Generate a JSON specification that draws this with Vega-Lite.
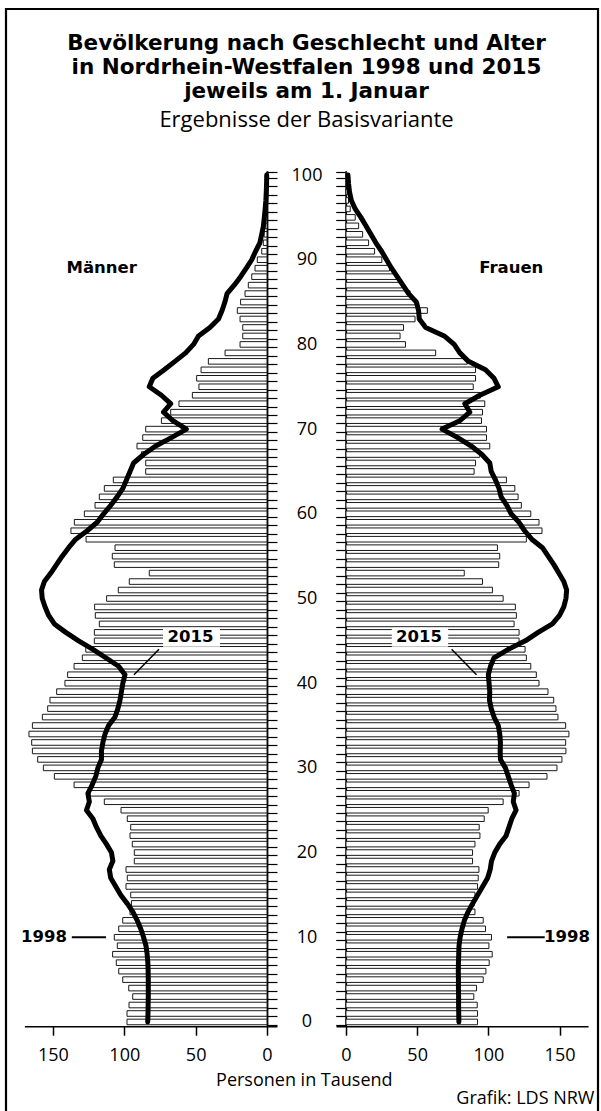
{
  "$schema": "https://vega.github.io/schema/vega-lite/v6.json",
  "width": 592,
  "height": 1112,
  "autosize": {"type": "none"},
  "padding": {"left": 6, "top": 9, "right": 3, "bottom": -10},
  "background": "white",
  "config": {
    "view": {"stroke": "black", "strokeWidth": 2.2, "fill": "white"},
    "axis": {"grid": false, "labelFont": "Open Sans", "labelFontSize": 18, "labelColor": "black", "titleFont": "Open Sans", "titleFontSize": 18, "titleFontWeight": "normal", "titleColor": "black", "domainColor": "black", "tickColor": "black", "labelFlush": false, "labelOverlap": false}
  },
  "title": {
    "text": ["Bevölkerung nach Geschlecht und Alter", "in Nordrhein-Westfalen 1998 und 2015", "jeweils am 1. Januar"],
    "subtitle": "Ergebnisse der Basisvariante",
    "anchor": "middle", "frame": "group", "offset": -131, "dx": 4.5,
    "font": "DejaVu Sans", "fontSize": 21.5, "fontWeight": "bold", "lineHeight": 24.3, "color": "black",
    "subtitleFont": "Open Sans", "subtitleFontSize": 22, "subtitleFontWeight": "normal", "subtitleColor": "black", "subtitlePadding": 7
  },
  "datasets": {
    "pop": [
      {"age": 0, "m98": 98.1, "w98": 92.4, "m15": 83.6, "w15": 79.3},
      {"age": 1, "m98": 98.1, "w98": 92.4, "m15": 83.4, "w15": 79.2},
      {"age": 2, "m98": 96.7, "w98": 92.2, "m15": 83.3, "w15": 79.1},
      {"age": 3, "m98": 94.1, "w98": 89.8, "m15": 83.2, "w15": 79.1},
      {"age": 4, "m98": 96.9, "w98": 91.7, "m15": 83.2, "w15": 79},
      {"age": 5, "m98": 101.1, "w98": 96.4, "m15": 83.2, "w15": 79},
      {"age": 6, "m98": 103.9, "w98": 98.3, "m15": 83.3, "w15": 78.9},
      {"age": 7, "m98": 105.6, "w98": 100.6, "m15": 83.5, "w15": 79},
      {"age": 8, "m98": 108.2, "w98": 102.7, "m15": 84, "w15": 79.2},
      {"age": 9, "m98": 104.9, "w98": 100.4, "m15": 84.8, "w15": 79.4},
      {"age": 10, "m98": 107, "w98": 102.2, "m15": 86.5, "w15": 80.2},
      {"age": 11, "m98": 103.9, "w98": 98, "m15": 88.5, "w15": 81.5},
      {"age": 12, "m98": 101.1, "w98": 96.4, "m15": 91, "w15": 83.2},
      {"age": 13, "m98": 96, "w98": 90.6, "m15": 94, "w15": 85.8},
      {"age": 14, "m98": 95, "w98": 90, "m15": 98, "w15": 89},
      {"age": 15, "m98": 95.5, "w98": 90.6, "m15": 102.5, "w15": 92.5},
      {"age": 16, "m98": 98.8, "w98": 92.4, "m15": 106, "w15": 96},
      {"age": 17, "m98": 97.9, "w98": 92.9, "m15": 109.5, "w15": 99.5},
      {"age": 18, "m98": 98.8, "w98": 93.4, "m15": 110.5, "w15": 101.3},
      {"age": 19, "m98": 93, "w98": 88.9, "m15": 108, "w15": 102.2},
      {"age": 20, "m98": 93, "w98": 88.9, "m15": 109, "w15": 104.5},
      {"age": 21, "m98": 94.4, "w98": 90.6, "m15": 112.5, "w15": 108},
      {"age": 22, "m98": 96, "w98": 94.1, "m15": 116.5, "w15": 112.5},
      {"age": 23, "m98": 95.5, "w98": 93.6, "m15": 119.5, "w15": 114.5},
      {"age": 24, "m98": 97.9, "w98": 97.1, "m15": 122, "w15": 116.5},
      {"age": 25, "m98": 102.3, "w98": 99.9, "m15": 126.5, "w15": 119.5},
      {"age": 26, "m98": 114, "w98": 110.4, "m15": 124.5, "w15": 117.5},
      {"age": 27, "m98": 124, "w98": 121.6, "m15": 125.5, "w15": 118.3},
      {"age": 28, "m98": 135.2, "w98": 128.6, "m15": 122.5, "w15": 116},
      {"age": 29, "m98": 149, "w98": 141.2, "m15": 120, "w15": 114},
      {"age": 30, "m98": 156.7, "w98": 148.2, "m15": 118.5, "w15": 112},
      {"age": 31, "m98": 160.7, "w98": 151.7, "m15": 116, "w15": 108.5},
      {"age": 32, "m98": 164.4, "w98": 154.5, "m15": 116, "w15": 108.3},
      {"age": 33, "m98": 164.9, "w98": 154.3, "m15": 115, "w15": 108.5},
      {"age": 34, "m98": 166.8, "w98": 156.6, "m15": 113.5, "w15": 108},
      {"age": 35, "m98": 164.4, "w98": 154.3, "m15": 111, "w15": 107},
      {"age": 36, "m98": 157.4, "w98": 148.9, "m15": 106.5, "w15": 104},
      {"age": 37, "m98": 153.7, "w98": 147.5, "m15": 104.5, "w15": 102},
      {"age": 38, "m98": 152.1, "w98": 145.9, "m15": 103, "w15": 100.8},
      {"age": 39, "m98": 147.4, "w98": 141.9, "m15": 102, "w15": 101},
      {"age": 40, "m98": 141.6, "w98": 135.6, "m15": 101, "w15": 100.5},
      {"age": 41, "m98": 139.7, "w98": 133.7, "m15": 99.5, "w15": 100},
      {"age": 42, "m98": 135.2, "w98": 129.8, "m15": 104, "w15": 101.5},
      {"age": 43, "m98": 129.4, "w98": 126.7, "m15": 113, "w15": 104},
      {"age": 44, "m98": 127, "w98": 125.8, "m15": 122, "w15": 114},
      {"age": 45, "m98": 121, "w98": 121.6, "m15": 132, "w15": 126},
      {"age": 46, "m98": 121, "w98": 121.6, "m15": 141, "w15": 135},
      {"age": 47, "m98": 117.5, "w98": 118.1, "m15": 149, "w15": 145},
      {"age": 48, "m98": 120.3, "w98": 119.7, "m15": 153, "w15": 150},
      {"age": 49, "m98": 120.8, "w98": 119, "m15": 155.5, "w15": 153},
      {"age": 50, "m98": 112.4, "w98": 110.4, "m15": 157.5, "w15": 154.5},
      {"age": 51, "m98": 104.2, "w98": 102.9, "m15": 158, "w15": 155},
      {"age": 52, "m98": 96.5, "w98": 95.9, "m15": 156, "w15": 153},
      {"age": 53, "m98": 82.5, "w98": 83.1, "m15": 151.5, "w15": 149.5},
      {"age": 54, "m98": 107, "w98": 107.3, "m15": 147.5, "w15": 146},
      {"age": 55, "m98": 108.4, "w98": 108, "m15": 143.5, "w15": 142},
      {"age": 56, "m98": 106.5, "w98": 106.4, "m15": 139, "w15": 138},
      {"age": 57, "m98": 126.8, "w98": 126.7, "m15": 134, "w15": 130.5},
      {"age": 58, "m98": 137.4, "w98": 137.7, "m15": 126, "w15": 125.5},
      {"age": 59, "m98": 135, "w98": 135.6, "m15": 119, "w15": 121.5},
      {"age": 60, "m98": 128, "w98": 129.8, "m15": 114.5, "w15": 116},
      {"age": 61, "m98": 120.5, "w98": 123.2, "m15": 109.5, "w15": 113},
      {"age": 62, "m98": 117.5, "w98": 120.9, "m15": 105, "w15": 109},
      {"age": 63, "m98": 114, "w98": 118.6, "m15": 101, "w15": 107.5},
      {"age": 64, "m98": 107.7, "w98": 112.7, "m15": 98.5, "w15": 105},
      {"age": 65, "m98": 85, "w98": 90, "m15": 96, "w15": 102},
      {"age": 66, "m98": 85, "w98": 91, "m15": 93.5, "w15": 101},
      {"age": 67, "m98": 88, "w98": 94, "m15": 86.5, "w15": 95.5},
      {"age": 68, "m98": 91.1, "w98": 101, "m15": 78, "w15": 88},
      {"age": 69, "m98": 87.1, "w98": 98.7, "m15": 67, "w15": 78.5},
      {"age": 70, "m98": 85, "w98": 98.7, "m15": 56.5, "w15": 67.5},
      {"age": 71, "m98": 74, "w98": 95.2, "m15": 66, "w15": 80},
      {"age": 72, "m98": 67.5, "w98": 95.9, "m15": 72.5, "w15": 87},
      {"age": 73, "m98": 61.7, "w98": 97.5, "m15": 67.5, "w15": 83.5},
      {"age": 74, "m98": 52.3, "w98": 94.5, "m15": 74, "w15": 94},
      {"age": 75, "m98": 47.7, "w98": 89.4, "m15": 82.5, "w15": 107},
      {"age": 76, "m98": 49.3, "w98": 91, "m15": 80, "w15": 104},
      {"age": 77, "m98": 46.2, "w98": 91, "m15": 72, "w15": 98},
      {"age": 78, "m98": 41.1, "w98": 85.2, "m15": 64.5, "w15": 86},
      {"age": 79, "m98": 29.4, "w98": 63, "m15": 57, "w15": 80},
      {"age": 80, "m98": 18.9, "w98": 41.8, "m15": 51.5, "w15": 76},
      {"age": 81, "m98": 17, "w98": 38, "m15": 48, "w15": 69},
      {"age": 82, "m98": 17, "w98": 40.4, "m15": 40, "w15": 56},
      {"age": 83, "m98": 18.9, "w98": 48.5, "m15": 34, "w15": 51.5},
      {"age": 84, "m98": 20.8, "w98": 57.2, "m15": 31.5, "w15": 51},
      {"age": 85, "m98": 18.5, "w98": 49.7, "m15": 29.5, "w15": 49.5},
      {"age": 86, "m98": 15.4, "w98": 45, "m15": 28, "w15": 44},
      {"age": 87, "m98": 13.1, "w98": 39.2, "m15": 23, "w15": 40},
      {"age": 88, "m98": 10.7, "w98": 35.7, "m15": 18.5, "w15": 36},
      {"age": 89, "m98": 8.4, "w98": 30.6, "m15": 14.5, "w15": 32},
      {"age": 90, "m98": 6.8, "w98": 25.2, "m15": 10.7, "w15": 28.5},
      {"age": 91, "m98": 3.7, "w98": 20.1, "m15": 8, "w15": 25},
      {"age": 92, "m98": 2.6, "w98": 15.9, "m15": 5, "w15": 21},
      {"age": 93, "m98": 2.0, "w98": 11.7, "m15": 3.7, "w15": 17.5},
      {"age": 94, "m98": 1.5, "w98": 8.9, "m15": 2.5, "w15": 14},
      {"age": 95, "m98": 1.0, "w98": 6.5, "m15": 1.9, "w15": 10.5},
      {"age": 96, "m98": 0.7, "w98": 3.0, "m15": 1.3, "w15": 6.5},
      {"age": 97, "m98": 0.5, "w98": 1.8, "m15": 0.8, "w15": 3.8},
      {"age": 98, "m98": 0.3, "w98": 1.0, "m15": 0.5, "w15": 2.5},
      {"age": 99, "m98": 0.2, "w98": 0.6, "m15": 0.3, "w15": 1.8},
      {"age": 100, "m98": 0.3, "w98": 0.5, "m15": 0.2, "w15": 1.4}
    ],
    "menText": [
      {"label": "Männer", "v": 115.8, "age": 89},
      {"label": "1998", "v": 156.3, "age": 10}
    ],
    "menYear": [{"label": "2015", "v": 53.6, "age": 45}],
    "menBox": [{"v": 32.9, "v2": 72.9, "age": 45}],
    "menLeader": [{"v": 75.7, "v2": 93.2, "age": 44, "age2": 41}],
    "menDash": [{"v": 136.8, "v2": 112.8, "age": 10, "age2": 10}],
    "womenText": [
      {"label": "Frauen", "v": 116.1, "age": 89},
      {"label": "1998", "v": 155.3, "age": 10}
    ],
    "womenYear": [{"label": "2015", "v": 51.3, "age": 45}],
    "womenBox": [{"v": 32.2, "v2": 71.8, "age": 45}],
    "womenLeader": [{"v": 74.2, "v2": 91.7, "age": 44, "age2": 41}],
    "womenDash": [{"v": 113.2, "v2": 139.6, "age": 10, "age2": 10}]
  },
  "resolve": {"scale": {"x": "independent"}, "axis": {"x": "independent", "y": "independent"}},
  "layer": [
    {
      "layer": [
        {
          "data": {"name": "pop"},
          "mark": {"type": "bar", "fill": "white", "stroke": "#1a1a1a", "strokeWidth": 1},
          "encoding": {
            "x": {"field": "m98", "type": "quantitative",
              "scale": {"domain": [-7, 170], "range": [271, 18.4], "nice": false, "zero": false},
              "axis": {"orient": "bottom", "offset": -94.8, "values": [0, 50, 100, 150], "title": "Personen in Tausend", "titleX": 297.8, "titleY": 58.8, "titleAlign": "center", "titleBaseline": "alphabetic", "tickSize": 9, "tickWidth": 1.5, "domainWidth": 1.5, "labelPadding": 11.5}},
            "y": {"field": "age", "type": "ordinal",
              "scale": {"domain": [100,99,98,97,96,95,94,93,92,91,90,89,88,87,86,85,84,83,82,81,80,79,78,77,76,75,74,73,72,71,70,69,68,67,66,65,64,63,62,61,60,59,58,57,56,55,54,53,52,51,50,49,48,47,46,45,44,43,42,41,40,39,38,37,36,35,34,33,32,31,30,29,28,27,26,25,24,23,22,21,20,19,18,17,16,15,14,13,12,11,10,9,8,7,6,5,4,3,2,1,0], "range": [161.8, 1017.2], "paddingInner": 0.34, "paddingOuter": 0.17},
              "axis": {"orient": "right", "offset": -331, "title": null, "tickBand": "extent", "tickSize": 10, "tickWidth": 1.2, "domainWidth": 1.8, "labelAlign": "center", "labelBaseline": "middle", "labelPadding": 29.5, "labelExpr": "datum.value % 10 === 0 ? datum.label : ''"}}
          }
        },
        {
          "data": {"name": "menBox"},
          "mark": {"type": "bar", "fill": "white", "stroke": null, "height": 19, "yOffset": -3.5},
          "encoding": {
            "x": {"field": "v", "type": "quantitative"},
            "x2": {"field": "v2"},
            "y": {"field": "age", "type": "ordinal"}
          }
        },
        {
          "data": {"name": "pop"},
          "mark": {"type": "line", "stroke": "black", "strokeWidth": 5, "strokeCap": "round", "strokeJoin": "round"},
          "encoding": {
            "x": {"field": "m15", "type": "quantitative"},
            "y": {"field": "age", "type": "ordinal"},
            "order": {"field": "age", "type": "quantitative"}
          }
        },
        {
          "data": {"name": "menLeader"},
          "mark": {"type": "rule", "stroke": "black", "strokeWidth": 1.5},
          "encoding": {
            "x": {"field": "v", "type": "quantitative"},
            "x2": {"field": "v2"},
            "y": {"field": "age", "type": "ordinal"},
            "y2": {"field": "age2"}
          }
        },
        {
          "data": {"name": "menDash"},
          "mark": {"type": "rule", "stroke": "black", "strokeWidth": 2},
          "encoding": {
            "x": {"field": "v", "type": "quantitative"},
            "x2": {"field": "v2"},
            "y": {"field": "age", "type": "ordinal"},
            "y2": {"field": "age2"}
          }
        },
        {
          "data": {"name": "menText"},
          "mark": {"type": "text", "font": "DejaVu Sans", "fontWeight": "bold", "fontSize": 16.5, "align": "center", "baseline": "middle", "color": "black"},
          "encoding": {
            "x": {"field": "v", "type": "quantitative"},
            "y": {"field": "age", "type": "ordinal"},
            "text": {"field": "label"}
          }
        },
        {
          "data": {"name": "menYear"},
          "mark": {"type": "text", "font": "DejaVu Sans", "fontWeight": "bold", "fontSize": 16.5, "align": "center", "baseline": "middle", "color": "black", "dy": -3.5},
          "encoding": {
            "x": {"field": "v", "type": "quantitative"},
            "y": {"field": "age", "type": "ordinal"},
            "text": {"field": "label"}
          }
        }
      ]
    },
    {
      "layer": [
        {
          "data": {"name": "pop"},
          "mark": {"type": "bar", "fill": "white", "stroke": "#1a1a1a", "strokeWidth": 1},
          "encoding": {
            "x": {"field": "w98", "type": "quantitative",
              "scale": {"domain": [-7, 170], "range": [330, 582], "nice": false, "zero": false},
              "axis": {"orient": "bottom", "offset": -94.8, "values": [0, 50, 100, 150], "title": "Grafik: LDS NRW", "titleX": 588, "titleY": 77.5, "titleAlign": "right", "titleBaseline": "alphabetic", "tickSize": 9, "tickWidth": 1.5, "domainWidth": 1.5, "labelPadding": 11.5}},
            "y": {"field": "age", "type": "ordinal",
              "scale": {"domain": [100,99,98,97,96,95,94,93,92,91,90,89,88,87,86,85,84,83,82,81,80,79,78,77,76,75,74,73,72,71,70,69,68,67,66,65,64,63,62,61,60,59,58,57,56,55,54,53,52,51,50,49,48,47,46,45,44,43,42,41,40,39,38,37,36,35,34,33,32,31,30,29,28,27,26,25,24,23,22,21,20,19,18,17,16,15,14,13,12,11,10,9,8,7,6,5,4,3,2,1,0], "range": [161.8, 1017.2], "paddingInner": 0.34, "paddingOuter": 0.17},
              "axis": {"orient": "left", "offset": -339.7, "title": null, "labels": false, "tickBand": "extent", "tickSize": 10, "tickWidth": 1.2, "domainWidth": 1.8}}
          }
        },
        {
          "data": {"name": "womenBox"},
          "mark": {"type": "bar", "fill": "white", "stroke": null, "height": 19, "yOffset": -3.5},
          "encoding": {
            "x": {"field": "v", "type": "quantitative"},
            "x2": {"field": "v2"},
            "y": {"field": "age", "type": "ordinal"}
          }
        },
        {
          "data": {"name": "pop"},
          "mark": {"type": "line", "stroke": "black", "strokeWidth": 5, "strokeCap": "round", "strokeJoin": "round"},
          "encoding": {
            "x": {"field": "w15", "type": "quantitative"},
            "y": {"field": "age", "type": "ordinal"},
            "order": {"field": "age", "type": "quantitative"}
          }
        },
        {
          "data": {"name": "womenLeader"},
          "mark": {"type": "rule", "stroke": "black", "strokeWidth": 1.5},
          "encoding": {
            "x": {"field": "v", "type": "quantitative"},
            "x2": {"field": "v2"},
            "y": {"field": "age", "type": "ordinal"},
            "y2": {"field": "age2"}
          }
        },
        {
          "data": {"name": "womenDash"},
          "mark": {"type": "rule", "stroke": "black", "strokeWidth": 2},
          "encoding": {
            "x": {"field": "v", "type": "quantitative"},
            "x2": {"field": "v2"},
            "y": {"field": "age", "type": "ordinal"},
            "y2": {"field": "age2"}
          }
        },
        {
          "data": {"name": "womenText"},
          "mark": {"type": "text", "font": "DejaVu Sans", "fontWeight": "bold", "fontSize": 16.5, "align": "center", "baseline": "middle", "color": "black"},
          "encoding": {
            "x": {"field": "v", "type": "quantitative"},
            "y": {"field": "age", "type": "ordinal"},
            "text": {"field": "label"}
          }
        },
        {
          "data": {"name": "womenYear"},
          "mark": {"type": "text", "font": "DejaVu Sans", "fontWeight": "bold", "fontSize": 16.5, "align": "center", "baseline": "middle", "color": "black", "dy": -3.5},
          "encoding": {
            "x": {"field": "v", "type": "quantitative"},
            "y": {"field": "age", "type": "ordinal"},
            "text": {"field": "label"}
          }
        }
      ]
    }
  ]
}
